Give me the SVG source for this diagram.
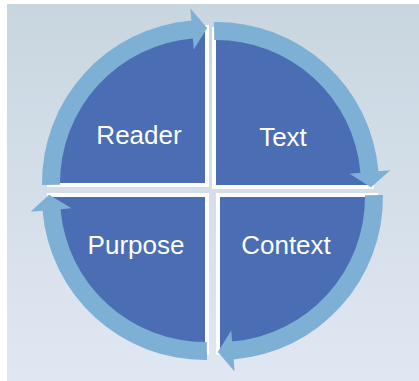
<svg xmlns="http://www.w3.org/2000/svg" width="419" height="381" viewBox="0 0 419 381">
  <defs>
    <linearGradient id="bg" x1="0" y1="0" x2="0" y2="1">
      <stop offset="0" stop-color="#C8D6E0"/>
      <stop offset="1" stop-color="#E0E7F2"/>
    </linearGradient>
  </defs>
  <style>
    .quad { fill: #4A6DB3; }
    .edge { fill: none; stroke: #FFFFFF; stroke-width: 4; }
    .arrow { fill: #7EB0D5; }
    .label { font-family: "Liberation Sans", Arial, sans-serif; font-size: 26px; fill: #FFFFFF; text-anchor: middle; }
  </style>

  <rect x="0" y="0" width="419" height="381" fill="#FFFFFF"/>
  <rect x="7" y="4" width="412" height="377" fill="url(#bg)"/>

  <!-- quarter segments -->
  <g id="reader">
    <path class="quad" d="M205,183 H49 A156,156 0 0 1 205,27 Z"/>
    <path class="edge" d="M207,25 V185 H47"/>
    <text class="label" x="139" y="144">Reader</text>
  </g>
  <g id="text">
    <path class="quad" d="M216,185 V29 A156,156 0 0 1 372,185 Z"/>
    <path class="edge" d="M214,27 V187 H374"/>
    <text class="label" x="283" y="146">Text</text>
  </g>
  <g id="context">
    <path class="quad" d="M220,197 H376 A156,156 0 0 1 220,353 Z"/>
    <path class="edge" d="M378,195 H218 V355"/>
    <text class="label" x="286" y="254">Context</text>
  </g>
  <g id="purpose">
    <path class="quad" d="M205,197 V353 A156,156 0 0 1 49,197 Z"/>
    <path class="edge" d="M207,355 V195 H47"/>
    <text class="label" x="136" y="254">Purpose</text>
  </g>

  <!-- circular arrows -->
  <g id="connectors">
    <path class="arrow" d="M42.01,184.99 A163,163 0 0 1 191.36,20.57 L190.36,8.61 L207.16,28.02 L193.79,49.47 L192.87,38.51 A145,145 0 0 0 60.01,184.77 Z"/>
    <path class="arrow" d="M214.01,22.01 A163,163 0 0 1 378.43,171.36 L390.39,170.36 L370.98,187.16 L349.53,173.79 L360.49,172.87 A145,145 0 0 0 214.23,40.01 Z"/>
    <path class="arrow" d="M382.99,195.01 A163,163 0 0 1 233.64,359.43 L234.64,371.39 L217.84,351.98 L231.21,330.53 L232.13,341.49 A145,145 0 0 0 364.99,195.23 Z"/>
    <path class="arrow" d="M206.99,359.99 A163,163 0 0 1 42.57,210.64 L30.61,211.64 L49.02,194.84 L71.47,208.21 L60.51,209.13 A145,145 0 0 0 206.77,341.99 Z"/>
  </g>
</svg>
